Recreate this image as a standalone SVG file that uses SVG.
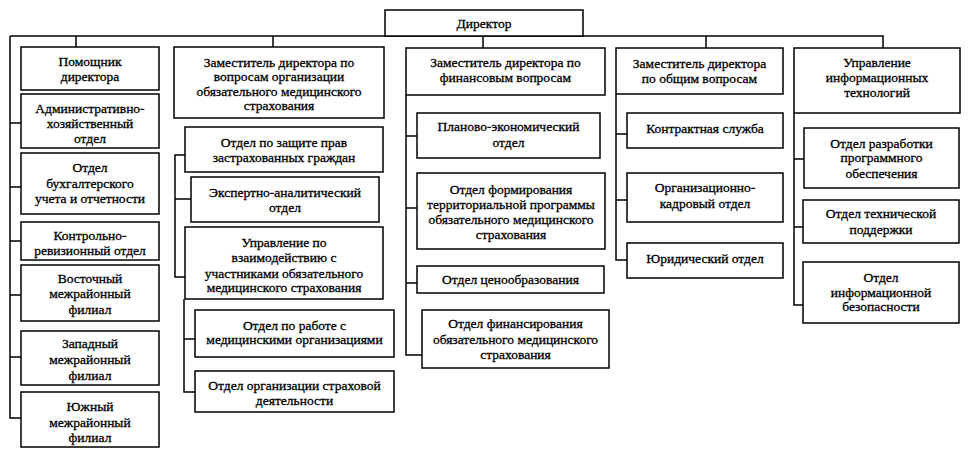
<svg xmlns="http://www.w3.org/2000/svg" width="972" height="456" viewBox="0 0 972 456">
<style>
.box{fill:#fff;stroke:#000;stroke-width:1.5}
.ln{fill:none;stroke:#000;stroke-width:1.5}
text{font-family:"Liberation Serif","Times New Roman",serif;font-size:13.5px;text-anchor:middle;fill:#000;stroke:#000;stroke-width:0.3}
</style>
<rect width="972" height="456" fill="#fff"/>
<g id="connectors">
<path class="ln" d="M10,36 H883 V48"/>
<path class="ln" d="M10,36 V418 H21 M10,123 H21 M10,187 H21 M10,241 H21 M10,295 H21 M10,357 H21"/>
<path class="ln" d="M76,36 V47 M273,36 V47 M483,36 V48 M706,36 V48"/>
<path class="ln" d="M185,155 H175 V277 H185 M175,199 H191"/>
<path class="ln" d="M184,299 V392 H195 M184,339 H195"/>
<path class="ln" d="M406,95 V355 H422 M406,136 H417 M406,208 H417 M406,283 H417"/>
<path class="ln" d="M616,94 V260 H627 M616,134 H627 M616,200 H627"/>
<path class="ln" d="M794,113 V305 H803 M794,159 H804 M794,227 H803"/>
</g>
<g id="director"><rect class="box" x="385" y="10" width="198" height="26"/><text x="484" y="27.5">Директор</text></g>

<g id="assistant"><rect class="box" x="21" y="47" width="138" height="43"/><text x="90" y="66">Помощник</text><text x="90" y="80.5">директора</text></g>
<g id="admin"><rect class="box" x="21" y="94" width="138" height="54"/><text x="90" y="112.5">Административно-</text><text x="90" y="127.5">хозяйственный</text><text x="90" y="142.5">отдел</text></g>
<g id="accounting"><rect class="box" x="21" y="153" width="138" height="61"/><text x="90" y="171.5">Отдел</text><text x="90" y="187.5">бухгалтерского</text><text x="90" y="202.5">учета и отчетности</text></g>
<g id="audit"><rect class="box" x="21" y="222" width="138" height="38"/><text x="90" y="239.5">Контрольно-</text><text x="90" y="254.5">ревизионный отдел</text></g>
<g id="east"><rect class="box" x="21" y="265" width="138" height="56"/><text x="90" y="282.5">Восточный</text><text x="90" y="297.5">межрайонный</text><text x="90" y="313.5">филиал</text></g>
<g id="west"><rect class="box" x="21" y="331" width="138" height="54"/><text x="90" y="347.5">Западный</text><text x="90" y="363.5">межрайонный</text><text x="90" y="379.5">филиал</text></g>
<g id="south"><rect class="box" x="21" y="392" width="138" height="55"/><text x="90" y="410.5">Южный</text><text x="90" y="426.5">межрайонный</text><text x="90" y="441.5">филиал</text></g>

<g id="deputy-oms"><rect class="box" x="174" y="47" width="210" height="71"/><text x="279" y="66.5">Заместитель директора по</text><text x="279" y="80.5">вопросам организации</text><text x="279" y="95.5">обязательного медицинского</text><text x="279" y="109.5">страхования</text></g>
<g id="rights"><rect class="box" x="185" y="127" width="198" height="45"/><text x="284" y="146.5">Отдел по защите прав</text><text x="284" y="161.5">застрахованных граждан</text></g>
<g id="expert"><rect class="box" x="191" y="177" width="188" height="45"/><text x="285" y="196.5">Экспертно-аналитический</text><text x="285" y="211.5">отдел</text></g>
<g id="interaction"><rect class="box" x="185" y="227" width="198" height="72"/><text x="284" y="246.5">Управление по</text><text x="284" y="261.5">взаимодействию с</text><text x="284" y="277.5">участниками обязательного</text><text x="284" y="291.5">медицинского страхования</text></g>
<g id="medorg"><rect class="box" x="195" y="310" width="199" height="47"/><text x="294.5" y="329.5">Отдел по работе с</text><text x="294.5" y="343.5">медицинскими организациями</text></g>
<g id="insurance"><rect class="box" x="195" y="371" width="199" height="41"/><text x="294.5" y="389.5">Отдел организации страховой</text><text x="294.5" y="404.5">деятельности</text></g>

<g id="deputy-fin"><rect class="box" x="406" y="48" width="199" height="47"/><text x="505.5" y="66.5">Заместитель директора по</text><text x="505.5" y="81.5">финансовым вопросам</text></g>
<g id="planning"><rect class="box" x="417" y="113" width="183" height="45"/><text x="508.5" y="130.5">Планово-экономический</text><text x="508.5" y="146.5">отдел</text></g>
<g id="territorial"><rect class="box" x="417" y="173" width="188" height="76"/><text x="511" y="193.5">Отдел формирования</text><text x="511" y="209">территориальной программы</text><text x="511" y="224">обязательного медицинского</text><text x="511" y="238.5">страхования</text></g>
<g id="pricing"><rect class="box" x="417" y="266" width="187" height="27"/><text x="510.5" y="283.5">Отдел ценообразования</text></g>
<g id="financing"><rect class="box" x="422" y="310" width="187" height="58"/><text x="515.5" y="327.5">Отдел финансирования</text><text x="515.5" y="343.5">обязательного медицинского</text><text x="515.5" y="358.5">страхования</text></g>

<g id="deputy-general"><rect class="box" x="616" y="48" width="167" height="46"/><text x="699.5" y="67.5">Заместитель директора</text><text x="699.5" y="82.5">по общим вопросам</text></g>
<g id="contract"><rect class="box" x="627" y="113" width="156" height="35"/><text x="705" y="132.5">Контрактная служба</text></g>
<g id="hr"><rect class="box" x="627" y="173" width="156" height="49"/><text x="705" y="191.5">Организационно-</text><text x="705" y="207.5">кадровый отдел</text></g>
<g id="legal"><rect class="box" x="627" y="243" width="156" height="35"/><text x="705" y="262.5">Юридический отдел</text></g>

<g id="it"><rect class="box" x="794" y="48" width="166" height="65"/><text x="877" y="66.5">Управление</text><text x="877" y="81.5">информационных</text><text x="877" y="96.5">технологий</text></g>
<g id="software"><rect class="box" x="804" y="128" width="155" height="60"/><text x="881.5" y="147.5">Отдел разработки</text><text x="881.5" y="161.5">программного</text><text x="881.5" y="177.5">обеспечения</text></g>
<g id="support"><rect class="box" x="803" y="200" width="156" height="43"/><text x="881" y="217.5">Отдел технической</text><text x="881" y="233.5">поддержки</text></g>
<g id="security"><rect class="box" x="803" y="262" width="156" height="61"/><text x="881" y="281.5">Отдел</text><text x="881" y="296.5">информационной</text><text x="881" y="310.5">безопасности</text></g>
</svg>
